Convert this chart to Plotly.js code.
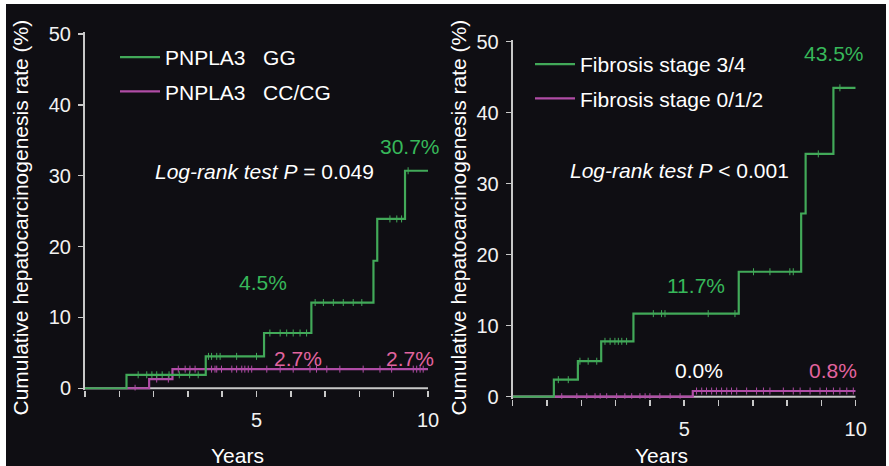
<!DOCTYPE html>
<html>
<head>
<meta charset="utf-8">
<script src="https://cdn.plot.ly/plotly-3.0.1.min.js"></script>
<style>
  html, body { margin: 0; padding: 0; background: #ffffff; width: 889px; height: 466px; overflow: hidden; }
  #chart { position: absolute; left: 6px; top: 4px; width: 880px; height: 462px; }
</style>
</head>
<body>
<div id="chart"></div>
<script>
// Kaplan–Meier style cumulative hepatocarcinogenesis curves (years vs %)

// Left panel: PNPLA3 genotype
const yearsGG = [0, 1.21, 3.52, 5.22, 6.60, 8.41, 8.52, 9.33, 10];
const rateGG  = [0, 1.9, 4.5, 7.8, 12.1, 18.0, 23.9, 30.7, 30.7];
const censorGG = [1.55, 1.80, 1.95, 2.09, 2.25, 2.45, 2.75, 3.05, 3.30,
                  3.60, 3.69, 3.84, 3.94, 4.42, 5.00,
                  5.39, 5.69, 5.88, 6.07, 6.27, 6.46,
                  6.71, 6.95, 7.24, 7.53, 7.82, 8.07,
                  8.89, 9.09, 9.23, 9.42];

const yearsCC = [0, 1.87, 2.55, 10];
const rateCC  = [0, 1.3, 2.7, 2.7];
const censorCC = [1.46, 2.09, 2.43,
                  2.72, 2.92, 3.06, 3.21, 3.69, 3.79, 3.84, 3.98, 4.28, 4.42,
                  4.57, 4.66, 4.76, 4.86, 5.30, 5.69, 6.07, 6.56, 6.75, 7.05,
                  7.43, 8.11, 8.60, 8.94, 9.57, 9.67, 9.77, 9.86];

// Right panel: fibrosis stage
const yearsF34 = [0, 1.20, 1.90, 2.58, 3.52, 6.59, 8.41, 8.54, 9.35, 10];
const rateF34  = [0, 2.4, 5.0, 7.8, 11.7, 17.6, 25.8, 34.2, 43.5, 43.5];
const censorF34 = [1.33, 1.62, 1.96, 2.20, 2.45, 2.69, 2.84, 2.98, 3.08, 3.18, 3.32,
                   4.10, 4.34, 4.44, 5.70, 6.48, 7.02, 7.50, 8.08, 8.18, 8.91, 9.54];

const yearsF012 = [0, 5.25, 10];
const rateF012  = [0, 0.8, 0.8];
const censorF012 = [1.43, 1.87, 2.16, 2.40, 2.55, 2.74, 3.03, 3.27, 3.47, 3.71, 3.86,
                    4.00, 4.29, 4.59, 4.88,
                    5.36, 5.51, 5.65, 5.80, 5.94, 6.09, 6.24, 6.38, 6.53, 6.82, 7.11,
                    7.31, 7.50, 7.89, 8.18, 8.38, 8.67, 8.96, 9.15, 9.35, 9.54, 9.74, 9.93];

// Annotated rates
const labelsLeft  = { p: '= 0.049', gg5: '4.5%', gg10: '30.7%', cc5: '2.7%', cc10: '2.7%' };
const labelsRight = { p: '< 0.001', f34_5: '11.7%', f34_10: '43.5%', f012_5: '0.0%', f012_10: '0.8%' };

const GREEN = '#42a959';
const GREEN_TXT = '#37b85a';
const PINK = '#b04ca6';
const PINK_TXT = '#e2649f';
const AXIS = '#c8c8c8';
const BG = '#0f0e13';
const FONT = '"Liberation Sans", Arial, Helvetica, sans-serif';

// level of a right-continuous step curve at time t
function levelAt(times, levels, t) {
  let v = levels[0];
  for (let i = 0; i < times.length; i++) { if (times[i] <= t) v = levels[i]; }
  return v;
}

function curve(x, y, color, name, xa, ya, legend, rank) {
  return { x: x, y: y, type: 'scatter', mode: 'lines', name: name, legendgroup: name,
           line: { color: color, width: 2.2, shape: 'hv' },
           xaxis: xa, yaxis: ya, legend: legend, legendrank: rank, hoverinfo: 'skip' };
}
function censor(times, x, y, color, xa, ya) {
  return { x: times, y: times.map(t => levelAt(x, y, t)), type: 'scatter', mode: 'markers',
           marker: { symbol: 'line-ns', size: 5, line: { color: color, width: 1 } },
           xaxis: xa, yaxis: ya, showlegend: false, hoverinfo: 'skip' };
}

const traces = [
  curve(yearsCC, rateCC, PINK, 'PNPLA3\u00a0\u00a0\u00a0CC/CG', 'x', 'y', 'legend', 2),
  censor(censorCC, yearsCC, rateCC, PINK, 'x', 'y'),
  curve(yearsGG, rateGG, GREEN, 'PNPLA3\u00a0\u00a0\u00a0GG', 'x', 'y', 'legend', 1),
  censor(censorGG, yearsGG, rateGG, GREEN, 'x', 'y'),
  curve(yearsF012, rateF012, PINK, 'Fibrosis stage 0/1/2', 'x2', 'y2', 'legend2', 2),
  censor(censorF012, yearsF012, rateF012, PINK, 'x2', 'y2'),
  curve(yearsF34, rateF34, GREEN, 'Fibrosis stage 3/4', 'x2', 'y2', 'legend2', 1),
  censor(censorF34, yearsF34, rateF34, GREEN, 'x2', 'y2')
];

const xTicks = [0, 1, 2, 3, 4, 5, 6, 7, 8, 9, 10];
const xTickText = ['', '', '', '', '', '5', '', '', '', '', '10'];
const yTicks = [0, 10, 20, 30, 40, 50];

function xAxis(domain, anchor) {
  return { domain: domain, anchor: anchor, range: [0, 10], showgrid: false, zeroline: false,
           showline: false, ticks: 'outside', ticklen: 6, tickwidth: 1.5, tickcolor: AXIS,
           tickvals: xTicks, ticktext: xTickText, ticklabelstandoff: 6,
           tickfont: { family: FONT, size: 20, color: '#f2f2f2' }, layer: 'below traces', fixedrange: true };
}
function yAxis(domain, anchor) {
  return { domain: domain, anchor: anchor, range: [-0.3, 50.3], showgrid: false, zeroline: false,
           showline: true, linecolor: AXIS, linewidth: 2, ticks: 'outside', ticklen: 5, tickwidth: 1.5,
           tickcolor: AXIS, tickvals: yTicks, ticklabelstandoff: 3,
           tickfont: { family: FONT, size: 20, color: '#f2f2f2' }, layer: 'below traces', fixedrange: true };
}

function txt(text, x, y, xref, yref, color, extra) {
  return Object.assign({ text: text, x: x, y: y, xref: xref, yref: yref, showarrow: false,
                         xanchor: 'center', yanchor: 'middle',
                         font: { family: FONT, size: 21, color: color } }, extra || {});
}

const W = 880, H = 462;
const annotations = [
  // left panel
  txt(labelsLeft.gg10, 9.48, 34.1, 'x', 'y', GREEN_TXT),
  txt('<i>Log-rank test P</i> ' + labelsLeft.p, 1.98, 30.6, 'x', 'y', '#ffffff', { xanchor: 'left' }),
  txt(labelsLeft.gg5, 5.19, 14.9, 'x', 'y', GREEN_TXT),
  txt(labelsLeft.cc5, 6.21, 4.14, 'x', 'y', PINK_TXT),
  txt(labelsLeft.cc10, 9.48, 4.14, 'x', 'y', PINK_TXT),
  // right panel
  txt(labelsRight.f34_10, 9.37, 48.4, 'x2', 'y2', GREEN_TXT),
  txt('<i>Log-rank test P</i> ' + labelsRight.p, 1.60, 31.9, 'x2', 'y2', '#ffffff', { xanchor: 'left' }),
  txt(labelsRight.f34_5, 5.35, 15.7, 'x2', 'y2', GREEN_TXT),
  txt(labelsRight.f012_5, 5.43, 3.76, 'x2', 'y2', '#ffffff'),
  txt(labelsRight.f012_10, 9.34, 3.76, 'x2', 'y2', PINK_TXT),
  // axis titles
  txt('Cumulative hepatocarcinogenesis rate (%)', 14 / W, 1 - 213.5 / H, 'paper', 'paper', '#ffffff', { textangle: -90 }),
  txt('Cumulative hepatocarcinogenesis rate (%)', 452 / W, 1 - 213.5 / H, 'paper', 'paper', '#ffffff', { textangle: -90 }),
  txt('Years', 231 / W, 1 - 451 / H, 'paper', 'paper', '#ffffff'),
  txt('Years', 655.7 / W, 1 - 451 / H, 'paper', 'paper', '#ffffff')
];

// horizontal axis lines at 0 %
const shapes = [
  { type: 'line', xref: 'x', yref: 'y', x0: 0, x1: 10, y0: 0, y1: 0, layer: 'below', line: { color: AXIS, width: 2 } },
  { type: 'line', xref: 'x2', yref: 'y2', x0: 0, x1: 10, y0: 0, y1: 0, layer: 'below', line: { color: AXIS, width: 2 } }
];

const legendStyle = { bgcolor: 'rgba(0,0,0,0)', borderwidth: 0, font: { family: FONT, size: 21, color: '#ffffff' },
                      xanchor: 'left', yanchor: 'top', itemwidth: 40, tracegroupgap: 4, itemclick: false, itemdoubleclick: false };

const layout = {
  width: W, height: H,
  margin: { l: 0, r: 0, t: 0, b: 0 },
  paper_bgcolor: BG, plot_bgcolor: BG,
  showlegend: true,
  xaxis: xAxis([79 / W, 422 / W], 'y'),
  yaxis: yAxis([1 - 386.4 / H, 1 - 27.87 / H], 'x'),
  xaxis2: xAxis([506.7 / W, 849.7 / W], 'y2'),
  yaxis2: yAxis([1 - 394.83 / H, 1 - 35.57 / H], 'x2'),
  legend: Object.assign({ x: 109 / W, y: 1 - 33 / H }, legendStyle),
  legend2: Object.assign({ x: 524 / W, y: 1 - 40 / H }, legendStyle),
  annotations: annotations,
  shapes: shapes
};

Plotly.newPlot('chart', traces, layout, { staticPlot: true, displayModeBar: false });
</script>
</body>
</html>
